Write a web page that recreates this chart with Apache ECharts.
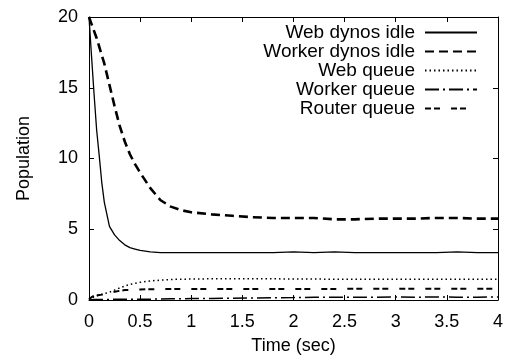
<!DOCTYPE html>
<html>
<head>
<meta charset="utf-8">
<script src="https://cdn.jsdelivr.net/npm/echarts@6/dist/echarts.min.js"></script>
<style>html,body{margin:0;padding:0;background:#fff}#c{width:506px;height:360px}</style>
</head>
<body>
<div id="c"></div>
<script>
var times = [0, 0.025, 0.05, 0.075, 0.1, 0.125, 0.15, 0.2, 0.25, 0.3, 0.35, 0.4, 0.45, 0.5, 0.6, 0.7, 0.8, 0.9, 1.0, 1.2, 1.4, 1.6, 1.8, 2.0, 2.2, 2.4, 2.6, 2.8, 3.0, 3.2, 3.4, 3.6, 3.8, 4.0];
var webIdle = [20, 17.2, 14.5, 12, 10.2, 8.3, 6.9, 5.2, 4.6, 4.2, 3.9, 3.7, 3.6, 3.5, 3.4, 3.35, 3.35, 3.35, 3.35, 3.35, 3.35, 3.35, 3.35, 3.4, 3.35, 3.4, 3.35, 3.35, 3.35, 3.35, 3.35, 3.4, 3.35, 3.35];
var workerIdle = [20, 19.5, 19, 18.5, 17.9, 17.3, 16.7, 15.2, 13.7, 12.3, 11.2, 10.3, 9.6, 9.0, 7.9, 7.05, 6.6, 6.35, 6.2, 6.05, 5.95, 5.85, 5.8, 5.8, 5.8, 5.7, 5.7, 5.75, 5.75, 5.75, 5.8, 5.8, 5.75, 5.75];
var webQueue = [0, 0.1, 0.25, 0.3, 0.35, 0.4, 0.45, 0.55, 0.7, 0.85, 0.98, 1.1, 1.18, 1.25, 1.35, 1.4, 1.45, 1.47, 1.48, 1.5, 1.5, 1.5, 1.5, 1.48, 1.48, 1.47, 1.47, 1.46, 1.46, 1.46, 1.46, 1.46, 1.46, 1.46];
var workerQueue = [0, 0.02, 0.03, 0.03, 0.03, 0.04, 0.04, 0.04, 0.05, 0.05, 0.05, 0.05, 0.05, 0.05, 0.06, 0.07, 0.08, 0.09, 0.1, 0.11, 0.13, 0.14, 0.16, 0.17, 0.19, 0.2, 0.2, 0.2, 0.21, 0.2, 0.21, 0.2, 0.2, 0.21];
var routerQueue = [0.05, 0.2, 0.3, 0.32, 0.35, 0.38, 0.42, 0.5, 0.58, 0.65, 0.7, 0.72, 0.74, 0.75, 0.76, 0.77, 0.77, 0.78, 0.78, 0.78, 0.78, 0.78, 0.78, 0.78, 0.78, 0.78, 0.79, 0.79, 0.79, 0.79, 0.8, 0.8, 0.8, 0.8];
var xTicks = [0, 0.5, 1, 1.5, 2, 2.5, 3, 3.5, 4];
var yTicks = [0, 5, 10, 15, 20];
var names = ['Web dynos idle', 'Worker dynos idle', 'Web queue', 'Worker queue', 'Router queue'];

function pairs(vals) { return times.map(function (t, i) { return [t, vals[i]]; }); }

var font = '"Liberation Sans", Arial, Helvetica, sans-serif';
var axisCommon = {
  axisLine: { show: true, onZero: false, lineStyle: { color: '#000', width: 1 } },
  axisTick: { show: true, inside: true, length: 5, lineStyle: { color: '#000', width: 1 } },
  splitLine: { show: false }
};

var chart = echarts.init(document.getElementById('c'), null, { renderer: 'canvas' });
chart.setOption({
  animation: false,
  backgroundColor: '#fff',
  grid: { left: 89, right: 7, top: 17, bottom: 60 },
  xAxis: [
    Object.assign({
      type: 'value', min: 0, max: 4, interval: 0.5, position: 'bottom',
      name: 'Time (sec)', nameLocation: 'middle', nameGap: 37,
      nameTextStyle: { fontFamily: font, fontSize: 18, color: '#000' },
      axisLabel: { fontFamily: font, fontSize: 18, color: '#000', margin: 13,
        formatter: function (v) { return xTicks.indexOf(v) >= 0 ? String(v) : ''; } }
    }, axisCommon),
    Object.assign({
      type: 'value', min: 0, max: 4, interval: 0.5, position: 'top', axisLabel: { show: false }
    }, axisCommon)
  ],
  yAxis: [
    Object.assign({
      type: 'value', min: 0, max: 20, interval: 5, position: 'left',
      name: 'Population', nameLocation: 'middle', nameGap: 56, nameRotate: 90,
      nameTextStyle: { fontFamily: font, fontSize: 18, color: '#000' },
      axisLabel: { fontFamily: font, fontSize: 18, color: '#000', margin: 11,
        formatter: function (v) { return yTicks.indexOf(v) >= 0 ? String(v) : ''; } }
    }, axisCommon),
    Object.assign({
      type: 'value', min: 0, max: 20, interval: 5, position: 'right', axisLabel: { show: false }
    }, axisCommon)
  ],
  legend: {
    orient: 'vertical', right: 23, top: 18, align: 'right',
    itemWidth: 52, itemHeight: 12, itemGap: 0,
    itemStyle: { opacity: 0 },
    textStyle: { fontFamily: font, fontSize: 19, lineHeight: 16.5, color: '#000', padding: [0, 5, 0, 0] },
    data: names
  },
  series: [
    { name: names[0], type: 'line', showSymbol: false, symbol: 'none', data: pairs(webIdle),
      lineStyle: { color: '#000', width: 1.3, type: 'solid' }, itemStyle: { color: '#000' } },
    { name: names[1], type: 'line', showSymbol: false, symbol: 'none', data: pairs(workerIdle),
      lineStyle: { color: '#000', width: 2.6, type: [9, 5] }, itemStyle: { color: '#000' } },
    { name: names[2], type: 'line', showSymbol: false, symbol: 'none', data: pairs(webQueue),
      lineStyle: { color: '#000', width: 1.5, type: [1.5, 3] }, itemStyle: { color: '#000' } },
    { name: names[3], type: 'line', showSymbol: false, symbol: 'none', data: pairs(workerQueue),
      lineStyle: { color: '#000', width: 1.5, type: [14, 4, 2, 4] }, itemStyle: { color: '#000' } },
    { name: names[4], type: 'line', showSymbol: false, symbol: 'none', data: pairs(routerQueue),
      lineStyle: { color: '#000', width: 2, type: [6, 3, 6, 11] }, itemStyle: { color: '#000' } }
  ]
});
</script>
</body>
</html>
